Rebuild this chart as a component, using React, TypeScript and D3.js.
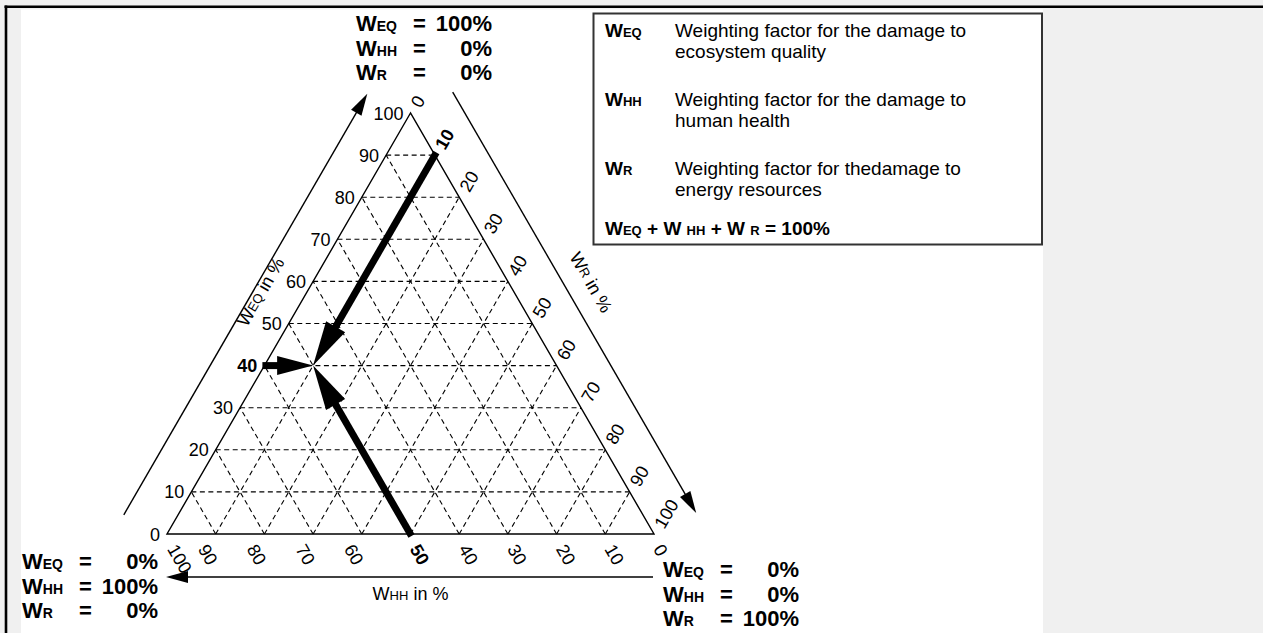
import React from 'react';
import * as d3 from 'd3';

// ---------- data ----------
const tickValues = [0, 10, 20, 30, 40, 50, 60, 70, 80, 90, 100];
const gridLevels = [10, 20, 30, 40, 50, 60, 70, 80, 90];
const selectedEQ = 40;
const selectedHH = 50;
const selectedR = 10;
const cornerKeys = ['EQ', 'HH', 'R'];
const cornerTopValues = ['100%', '0%', '0%'];
const cornerLeftValues = ['0%', '100%', '0%'];
const cornerRightValues = ['0%', '0%', '100%'];
const legendKeys = ['EQ', 'HH', 'R'];
const legendLines = [
  ['Weighting factor for the damage to', 'ecosystem quality'],
  ['Weighting factor for the damage to', 'human health'],
  ['Weighting factor for thedamage to', 'energy resources'],
];

// ---------- layout ----------
const W = 1263;
const H = 633;
const FONT = "'Liberation Sans', Arial, Helvetica, sans-serif";

const hhScale = d3.scaleLinear().domain([0, 100]).range([654, 167]);
const eqScale = d3.scaleLinear().domain([0, 100]).range([534, 113]);
type Pt = [number, number];
const P = (eq: number, hh: number): Pt => [hhScale(hh + eq / 2), eqScale(eq)];

function Arrow({ from, to, width, headLen, headHalf }: { from: Pt; to: Pt; width: number; headLen: number; headHalf: number }) {
  const dx = to[0] - from[0];
  const dy = to[1] - from[1];
  const L = Math.hypot(dx, dy);
  const ux = dx / L;
  const uy = dy / L;
  const bx = to[0] - ux * headLen;
  const by = to[1] - uy * headLen;
  const px = -uy;
  const py = ux;
  return (
    <g>
      <line x1={from[0]} y1={from[1]} x2={bx + ux * 2} y2={by + uy * 2} stroke="#000" strokeWidth={width} />
      <polygon
        points={`${to[0]},${to[1]} ${bx + px * headHalf},${by + py * headHalf} ${bx - px * headHalf},${by - py * headHalf}`}
        fill="#000"
      />
    </g>
  );
}

function CornerBlock({ x0, y0, values }: { x0: number; y0: number; values: string[] }) {
  return (
    <g fontFamily={FONT} fontWeight="bold" fill="#000">
      {cornerKeys.map((k, i) => (
        <g key={k}>
          <text x={x0} y={y0 + i * 24.5} fontSize={22}>
            W<tspan fontSize={14}>{k}</tspan>
          </text>
          <text x={x0 + 57} y={y0 + i * 24.5} fontSize={22}>=</text>
          <text x={x0 + 136} y={y0 + i * 24.5} fontSize={22} textAnchor="end">{values[i]}</text>
        </g>
      ))}
    </g>
  );
}

export default function App() {
  const A = P(100, 0);
  const B = P(0, 100);
  const C = P(0, 0);
  const target = P(selectedEQ, selectedHH);
  const d = 47;

  // outer axis lines
  const eqFrom: Pt = [B[0] - 0.866 * d - 2.5, B[1] - 0.5 * d + 4.3];
  const eqTo: Pt = [A[0] - 0.866 * d - 2.5, A[1] - 0.5 * d + 4.3];
  const rFrom: Pt = [A[0] + 0.866 * d + 1.5, A[1] - 0.5 * d + 2.6];
  const rTo: Pt = [C[0] + 0.866 * d + 1.5, C[1] - 0.5 * d + 2.6];
  const hhFrom: Pt = [C[0] - 1, C[1] + 43];
  const hhTo: Pt = [B[0] - 1, B[1] + 43];

  const rStart = P(100 - selectedR, 0);
  const hhStart = P(0, selectedHH);
  const eqStart = P(selectedEQ, 100 - selectedEQ);

  const leftTitle = P(57, 43);
  const ltx = leftTitle[0] - 45;
  const lty = leftTitle[1] - 2;
  const rightTitle = P(60, 0);
  const rtx = rightTitle[0] + 83;
  const rty = rightTitle[1] + 1;

  const bottomShift = (t: number) => (t === 100 ? 5 : t > 50 ? -13 : 4);

  return (
    <svg width={W} height={H} style={{ position: 'absolute', left: 0, top: 0 }}>
      <rect x={0} y={0} width={W} height={H} fill="#f0f0f0" />
      <rect x={21} y={9.5} width={1022} height={H} fill="#fff" />
      <line x1={4.5} y1={6.8} x2={W} y2={6.8} stroke="#000" strokeWidth={2.6} />
      <line x1={6} y1={5.5} x2={6} y2={H} stroke="#000" strokeWidth={2.6} />

      {/* dashed grid */}
      <g stroke="#000" strokeWidth={1.1} strokeDasharray="5,3.5" fill="none">
        {gridLevels.map((k) => {
          const a = P(k, 100 - k), b = P(k, 0);
          return <line key={'eq' + k} x1={a[0]} y1={a[1]} x2={b[0]} y2={b[1]} />;
        })}
        {gridLevels.map((k) => {
          const a = P(0, k), b = P(100 - k, k);
          return <line key={'hh' + k} x1={a[0]} y1={a[1]} x2={b[0]} y2={b[1]} />;
        })}
        {gridLevels.map((k) => {
          const a = P(0, 100 - k), b = P(100 - k, 0);
          return <line key={'r' + k} x1={a[0]} y1={a[1]} x2={b[0]} y2={b[1]} />;
        })}
      </g>

      {/* triangle */}
      <polygon points={[A, B, C].map((p) => p.join(',')).join(' ')} fill="none" stroke="#000" strokeWidth={1.4} />

      {/* outer axes */}
      <Arrow from={eqFrom} to={eqTo} width={1.4} headLen={22} headHalf={6} />
      <Arrow from={rFrom} to={rTo} width={1.4} headLen={22} headHalf={6} />
      <Arrow from={hhFrom} to={hhTo} width={1.4} headLen={22} headHalf={6} />

      {/* thick arrows */}
      <Arrow from={[rStart[0] + 1.5, rStart[1] - 2.6]} to={target} width={7} headLen={45} headHalf={11} />
      <Arrow from={[hhStart[0] + 1, hhStart[1] + 2]} to={target} width={7} headLen={45} headHalf={11} />
      <Arrow from={[eqStart[0] - 2, eqStart[1]]} to={target} width={7} headLen={36} headHalf={9.5} />

      {/* tick labels */}
      <g fontFamily={FONT} fontSize={18} fill="#000">
        {tickValues.map((t) => {
          const p = P(t, 100 - t);
          return (
            <text key={'l' + t} x={p[0] - 7} y={p[1] + 6.5} textAnchor="end" fontWeight={t === selectedEQ ? 'bold' : 'normal'}>
              {t}
            </text>
          );
        })}
        {tickValues.map((t) => {
          const p = P(100 - t, 0);
          const sx = p[0] + 5, sy = p[1] - 7;
          return (
            <text key={'r' + t} x={sx} y={sy} dominantBaseline="central" transform={`rotate(-60 ${sx} ${sy})`}
              fontWeight={t === selectedR ? 'bold' : 'normal'}>
              {t}
            </text>
          );
        })}
        {tickValues.map((t) => {
          const p = P(0, t);
          const sx = p[0] + bottomShift(t), sy = p[1] + 12;
          return (
            <text key={'b' + t} x={sx} y={sy} dominantBaseline="central" transform={`rotate(60 ${sx} ${sy})`}
              fontWeight={t === selectedHH ? 'bold' : 'normal'}>
              {t}
            </text>
          );
        })}
      </g>

      {/* axis titles */}
      <g fontFamily={FONT} fontSize={18} fill="#000">
        <text x={ltx} y={lty} textAnchor="middle" dominantBaseline="central"
          transform={`rotate(-60 ${ltx} ${lty})`}>
          W<tspan fontSize={13}>EQ</tspan> in %
        </text>
        <text x={rtx} y={rty} textAnchor="middle" dominantBaseline="central"
          transform={`rotate(60 ${rtx} ${rty})`}>
          W<tspan fontSize={13}>R</tspan> in %
        </text>
        <text x={hhScale(50)} y={600} textAnchor="middle">
          W<tspan fontSize={13}>HH</tspan> in %
        </text>
      </g>

      {/* corner blocks */}
      <CornerBlock x0={356} y0={31} values={cornerTopValues} />
      <CornerBlock x0={22} y0={569} values={cornerLeftValues} />
      <CornerBlock x0={663} y0={577} values={cornerRightValues} />

      {/* legend */}
      <rect x={593.5} y={13.5} width={448.5} height={231} fill="#fff" stroke="#333" strokeWidth={2} />
      <g fontFamily={FONT} fill="#000">
        {legendKeys.map((k, i) => (
          <g key={k}>
            <text x={605} y={37 + i * 69} fontSize={19} fontWeight="bold">
              W<tspan fontSize={13}>{k}</tspan>
            </text>
            {legendLines[i].map((ln, j) => (
              <text key={j} x={675} y={37 + i * 69 + j * 21} fontSize={19}>{ln}</text>
            ))}
          </g>
        ))}
        <text x={605} y={235} fontSize={19} fontWeight="bold">
          W<tspan fontSize={13}>EQ</tspan> + W <tspan fontSize={13}>HH</tspan> + W <tspan fontSize={13}>R</tspan> = 100%
        </text>
      </g>
    </svg>
  );
}
